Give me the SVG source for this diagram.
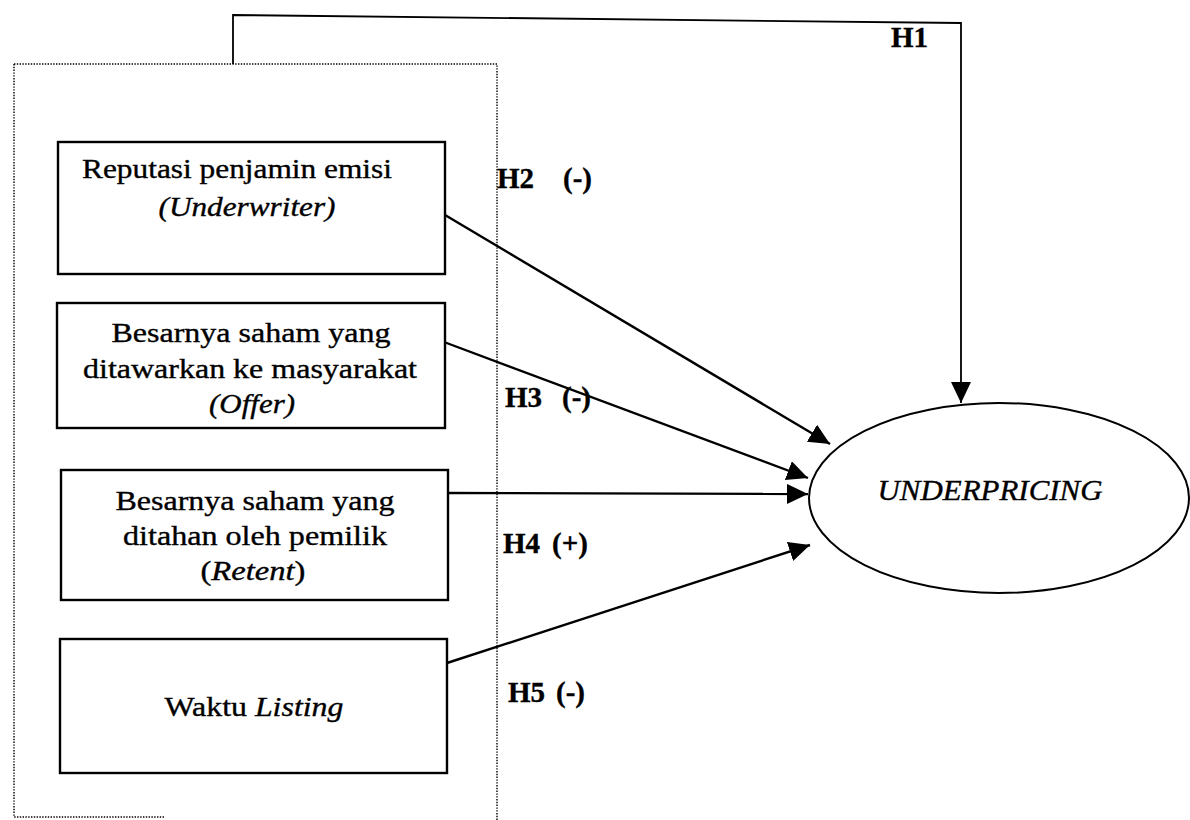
<svg xmlns="http://www.w3.org/2000/svg" width="1190" height="820" viewBox="0 0 1190 820">
<style>
text{font-family:"Liberation Serif","Times New Roman",serif;fill:#000;stroke:#000;stroke-width:0.35}
.t{font-size:27px}
.i{font-style:italic}
.lbl{font-size:29px;font-weight:bold}
.box{fill:#fff;stroke:#000;stroke-width:2.4}
.dot{fill:none;stroke:#000;stroke-width:1.4;stroke-dasharray:1.4 1.4}
.con{fill:none;stroke:#000;stroke-width:2.4}
</style>
<defs>
<marker id="ah" markerUnits="userSpaceOnUse" markerWidth="24" markerHeight="22" refX="21" refY="10" orient="auto">
<path d="M0,0 L21,10 L0,20 z" fill="#000"/>
</marker>
</defs>
<rect width="1190" height="820" fill="#fff"/>
<g id="group-frame">
<path class="dot" d="M14,64 L497,64 L497,820"/>
<path class="dot" d="M14,64 L14,817 L165,817"/>
</g>
<g id="connectors">
<polyline class="con" style="stroke-width:1.8" points="233,64 233,15 961,23 961,403" marker-end="url(#ah)"/>
<line class="con" x1="445" y1="215" x2="830" y2="444" marker-end="url(#ah)"/>
<line class="con" x1="444" y1="342" x2="808" y2="478" marker-end="url(#ah)"/>
<line class="con" x1="447" y1="493" x2="808" y2="494" marker-end="url(#ah)"/>
<line class="con" x1="447" y1="663" x2="810" y2="545" marker-end="url(#ah)"/>
</g>
<g id="node-underwriter">
<rect class="box" x="58" y="142" width="387" height="132"/>
<text class="t" x="237" y="178" text-anchor="middle" textLength="310" lengthAdjust="spacingAndGlyphs">Reputasi penjamin emisi</text>
<text class="t i" x="247" y="216" text-anchor="middle" textLength="177" lengthAdjust="spacingAndGlyphs">(Underwriter)</text>
</g>
<g id="node-offer">
<rect class="box" x="57" y="303" width="388" height="125"/>
<text class="t" x="251" y="342" text-anchor="middle" textLength="279" lengthAdjust="spacingAndGlyphs">Besarnya saham yang</text>
<text class="t" x="250" y="378" text-anchor="middle" textLength="334" lengthAdjust="spacingAndGlyphs">ditawarkan ke masyarakat</text>
<text class="t i" x="252" y="413" text-anchor="middle" textLength="86" lengthAdjust="spacingAndGlyphs">(Offer)</text>
</g>
<g id="node-retent">
<rect class="box" x="61" y="470" width="387" height="130"/>
<text class="t" x="255" y="510" text-anchor="middle" textLength="279" lengthAdjust="spacingAndGlyphs">Besarnya saham yang</text>
<text class="t" x="255" y="545" text-anchor="middle" textLength="264" lengthAdjust="spacingAndGlyphs">ditahan oleh pemilik</text>
<text class="t" x="253" y="580" text-anchor="middle" textLength="105" lengthAdjust="spacingAndGlyphs">(<tspan class="i">Retent</tspan>)</text>
</g>
<g id="node-listing">
<rect class="box" x="60" y="639" width="387" height="134"/>
<text class="t" x="254" y="716" text-anchor="middle" textLength="179" lengthAdjust="spacingAndGlyphs">Waktu <tspan class="i">Listing</tspan></text>
</g>
<g id="node-underpricing">
<ellipse cx="999" cy="498" rx="190" ry="95" fill="#fff" stroke="#000" stroke-width="2"/>
<text class="i" style="font-size:29px" x="990" y="500" text-anchor="middle" textLength="225" lengthAdjust="spacingAndGlyphs">UNDERPRICING</text>
</g>
<g id="labels">
<text class="lbl" x="891" y="47">H1</text>
<text class="lbl" y="188"><tspan x="497">H2</tspan><tspan x="563">(-)</tspan></text>
<text class="lbl" y="407"><tspan x="505">H3</tspan><tspan x="562">(-)</tspan></text>
<text class="lbl" y="553"><tspan x="503">H4</tspan><tspan x="552">(+)</tspan></text>
<text class="lbl" y="702"><tspan x="508">H5</tspan><tspan x="556">(-)</tspan></text>
</g>
</svg>
